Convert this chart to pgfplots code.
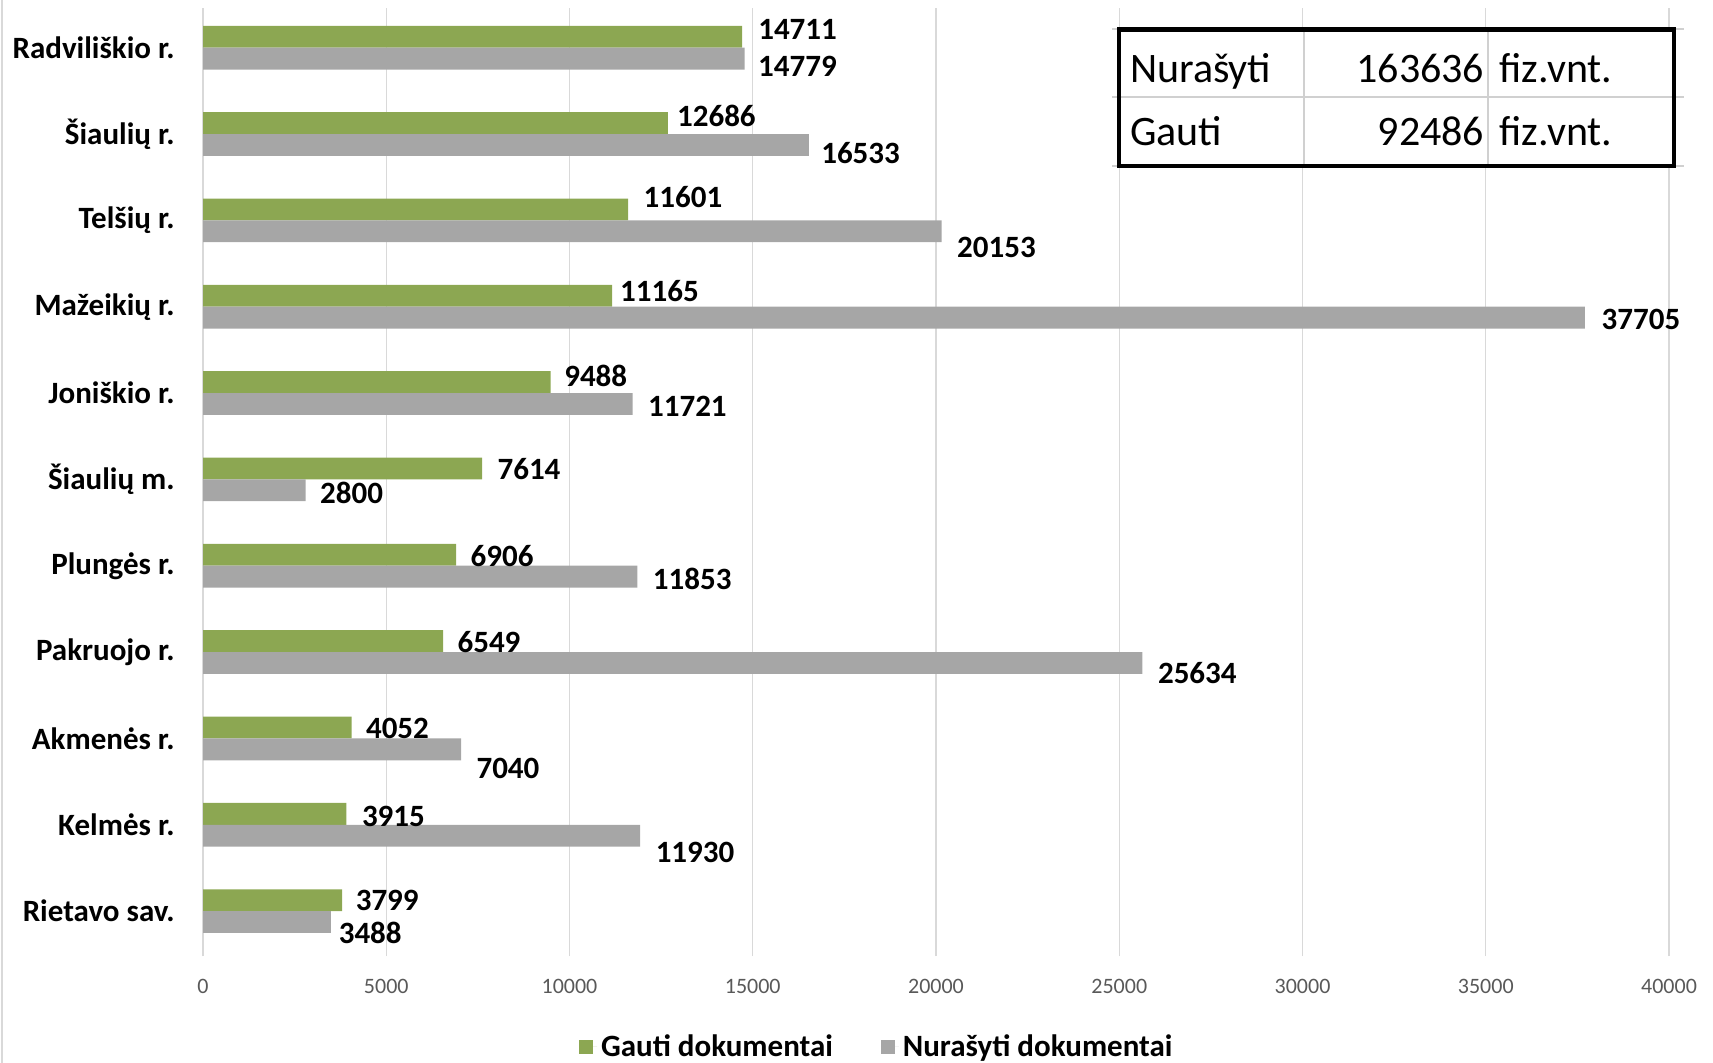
\documentclass[border=0pt]{standalone}
\usepackage{pgfplots}
\pgfplotsset{compat=1.18}
\usepackage{pgfplotstable}
\usepackage{fontspec}
\setmainfont{Carlito}
\definecolor{ggreen}{HTML}{8CA752}
\definecolor{ggray}{HTML}{A6A6A6}
\definecolor{gridc}{HTML}{D9D9D9}
\definecolor{tickgray}{HTML}{595959}
\definecolor{tablegray}{HTML}{D0D0D0}

\pgfplotstableread{
y x dx dy
10.1265 14711 7.9 3.8
9.1265 12686 4.4 3.8
8.1265 11601 7.6 6.0
7.1265 11165 3.8 2.2
6.1265 9488 6.6 3.3
5.1265 7614 7.6 -0.5
4.1265 6906 7.1 -0.5
3.1265 6549 7.1 -0.5
2.1265 4052 7.1 -0.5
1.1265 3915 7.6 -1.1
0.1265 3799 6.6 0
}\gauti

\pgfplotstableread{
y x dx dy
9.8735 14779 6.6 -3.8
8.8735 16533 6.0 -3.8
7.8735 20153 7.6 -8.2
6.8735 37705 8.2 -1.1
5.8735 11721 7.6 -1.1
4.8735 2800 7.1 -1.1
3.8735 11853 7.6 -1.1
2.8735 25634 7.6 -4.9
1.8735 7040 7.6 -9.8
0.8735 11930 7.6 -8.2
-0.1265 3488 3.8 -5.5
}\nurasyti

\begin{document}
\begin{tikzpicture}
\useasboundingbox (0,0) rectangle (856.5bp,531.5bp);
\draw[gridc, line width=1bp] (0.8bp,0) -- (0.8bp,531.5bp);
\begin{axis}[
  at={(101.5bp,53.5bp)}, anchor=south west,
  scale only axis, width=733bp, height=474bp,
  xmin=0, xmax=40000, ymin=-0.52, ymax=10.46,
  xtick={0,5000,...,40000},
  scaled x ticks=false,
  ytick={0,...,10},
  yticklabels={Rietavo sav., Kelmės r., Akmenės r., Pakruojo r., Plungės r., Šiaulių m., Joniškio r., Mažeikių r., Telšių r., Šiaulių r., Radviliškio r.},
  xmajorgrids, major grid style={gridc, line width=0.7bp},
  axis line style={draw=none},
  major tick length=0pt, tick style={draw=none},
  /pgf/number format/assume math mode=true,
  /pgf/number format/1000 sep={},
  xticklabel style={font=\fontsize{11bp}{13bp}\selectfont, text=tickgray, anchor=center, yshift=-15.25bp},
  yticklabel style={font=\fontsize{15.5bp}{18bp}\selectfont\bfseries, anchor=east, inner sep=0pt, xshift=-14bp},
  xbar, bar width=0.253, bar shift=0pt,
  clip=false,
  point meta=x,
  nodes near coords,
  visualization depends on={\thisrow{dx} \as \dx},
  visualization depends on={\thisrow{dy} \as \dy},
  nodes near coords style={anchor=west, inner sep=0pt, xshift=\dx, yshift=\dy, font=\fontsize{15.5bp}{18bp}\selectfont\bfseries, text=black},
  legend columns=2,
  legend style={at={(0.4603,-0.0956)}, anchor=center, draw=none, fill=none,
    font=\fontsize{15.5bp}{18bp}\selectfont\bfseries,
    /tikz/every even column/.append style={column sep=22bp}},
  legend image code/.code={\fill[#1,draw=none] (0bp,-3.5bp) rectangle (7bp,3.5bp); \path (0bp,0bp) -- (9bp,0bp);},
]
\addplot[fill=ggreen, draw=none] table[x=x, y=y] {\gauti};
\addlegendentry{Gauti dokumentai}
\addplot[fill=ggray, draw=none] table[x=x, y=y] {\nurasyti};
\addlegendentry{Nurašyti dokumentai}
\end{axis}
% summary table
\fill[white] (559.5bp,448.5bp) rectangle (837bp,516.75bp);
\draw[tablegray, line width=1bp] (556bp,482.9bp) -- (842bp,482.9bp);
\draw[tablegray, line width=1bp] (556bp,516.75bp) -- (842bp,516.75bp);
\draw[tablegray, line width=1bp] (556bp,448.5bp) -- (842bp,448.5bp);
\draw[tablegray, line width=1bp] (652bp,448.5bp) -- (652bp,516.75bp);
\draw[tablegray, line width=1bp] (744bp,448.5bp) -- (744bp,516.75bp);
\draw[black, line width=2.2bp] (559.5bp,448.5bp) rectangle (837bp,516.75bp);
\begin{scope}[every node/.style={inner sep=0pt, font=\fontsize{21bp}{25bp}\selectfont}]
\node[anchor=base west] at (564.8bp,490.3bp) {Nurašyti};
\node[anchor=base east] at (742.3bp,490.3bp) {163636};
\node[anchor=base west] at (749.5bp,490.3bp) {fiz.vnt.};
\node[anchor=base west] at (564.8bp,458.7bp) {Gauti};
\node[anchor=base east] at (742.3bp,458.7bp) {92486};
\node[anchor=base west] at (749.5bp,458.7bp) {fiz.vnt.};
\end{scope}
\end{tikzpicture}
\end{document}
